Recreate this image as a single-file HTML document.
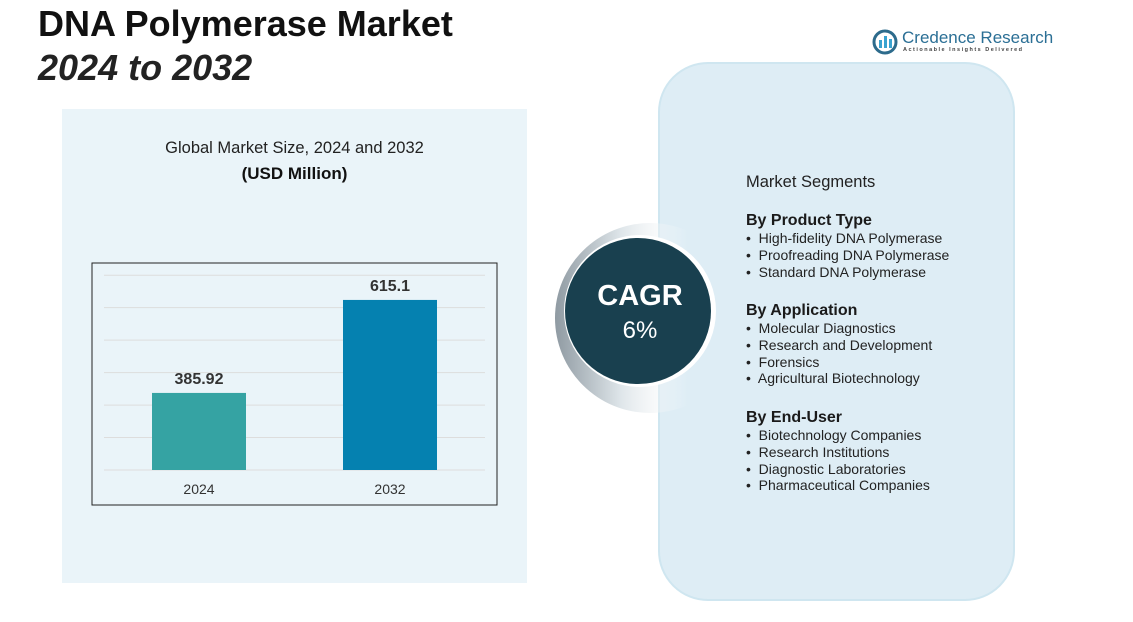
<!DOCTYPE html>
<html><head><meta charset="utf-8"><style>
body{margin:0;width:1133px;height:622px;background:#fff;font-family:"Liberation Sans",sans-serif;position:relative;overflow:hidden}
.abs{position:absolute}
.t1{left:38px;top:3px;font-size:36px;font-weight:bold;color:#111}
.t2{left:38px;top:47px;font-size:36px;font-weight:bold;font-style:italic;color:#222}
.left{left:62px;top:109px;width:465px;height:474px;background:#eaf4f9}
.right{left:658px;top:62px;width:353px;height:535px;background:#deedf5;border:2px solid #cfe6f0;border-radius:50px}
.seg{left:746px;color:#222;font-size:14px}
.h{font-weight:bold;font-size:16px;color:#1a1a1a}
.li{line-height:16.8px}
</style></head><body>
<div class="abs t1">DNA Polymerase Market</div>
<div class="abs t2">2024 to 2032</div>
<div class="abs" style="left:872px;top:28px;">
<svg width="28" height="28" style="position:absolute;left:0;top:0"><circle cx="13" cy="14" r="11" fill="none" stroke="#2d6b8c" stroke-width="3"/><rect x="7" y="12" width="3" height="8" fill="#3aa3d0"/><rect x="12" y="8" width="3" height="12" fill="#3aa3d0"/><rect x="17" y="11" width="3" height="9" fill="#3aa3d0"/></svg>
<div style="position:absolute;left:30px;top:0px;font-size:17px;color:#2b6f95;white-space:nowrap">Credence Research</div>
<div style="position:absolute;left:31px;top:19px;font-size:5.5px;letter-spacing:1.5px;color:#444;white-space:nowrap;font-weight:bold">Actionable Insights Delivered</div>
</div>
<div class="abs left"></div>
<div class="abs" style="left:62px;top:139px;width:465px;text-align:center;font-size:16.5px;color:#222">Global Market Size, 2024 and 2032</div>
<div class="abs" style="left:62px;top:164px;width:465px;text-align:center;font-size:17px;font-weight:bold;color:#111">(USD Million)</div>
<svg class="abs" id="chart" style="left:0;top:0" width="1133" height="622"></svg>
<div class="abs right"></div>
<svg class="abs" style="left:555px;top:215px" width="170" height="210">
<defs><linearGradient id="g" x1="0" x2="1"><stop offset="0" stop-color="#8f9aa2"/><stop offset="0.35" stop-color="#dfe6ea"/><stop offset="0.7" stop-color="#fff" stop-opacity="0"/></linearGradient></defs>
<circle cx="95" cy="103" r="95" fill="url(#g)"/>
<circle cx="85" cy="96" r="76" fill="#fff"/>
<circle cx="83" cy="96" r="73" fill="#19404f"/>
<text x="85" y="90" text-anchor="middle" font-size="29" font-weight="bold" fill="#fff" font-family="Liberation Sans">CAGR</text>
<text x="85" y="123" text-anchor="middle" font-size="24" fill="#fff" font-family="Liberation Sans">6%</text>
</svg>
<div class="abs seg" style="top:173px;font-size:16.5px">Market Segments</div>
<div class="abs seg" style="top:212px"><div class="h">By Product Type</div>
<div class="li">•&nbsp; High-fidelity DNA Polymerase</div><div class="li">•&nbsp; Proofreading DNA Polymerase</div><div class="li">•&nbsp; Standard DNA Polymerase</div></div>
<div class="abs seg" style="top:302px"><div class="h">By Application</div>
<div class="li">•&nbsp; Molecular Diagnostics</div><div class="li">•&nbsp; Research and Development</div><div class="li">•&nbsp; Forensics</div><div class="li">•&nbsp; Agricultural Biotechnology</div></div>
<div class="abs seg" style="top:409px"><div class="h">By End-User</div>
<div class="li">•&nbsp; Biotechnology Companies</div><div class="li">•&nbsp; Research Institutions</div><div class="li">•&nbsp; Diagnostic Laboratories</div><div class="li">•&nbsp; Pharmaceutical Companies</div></div>
<script>
const categories=["2024","2032"];
const values=[385.92,615.1];
const labels=["385.92","615.1"];
const colors=["#35a3a3","#0581b0"];
const yMin=196, yMax=680, step=80;
const svg=document.getElementById('chart');
const NS="http://www.w3.org/2000/svg";
const baseY=470, ppu=0.4058;
const y=v=>baseY-(v-yMin)*ppu;
const xc=i=>199+i*191;
function mk(t,a){const e=document.createElementNS(NS,t);for(const k in a)e.setAttribute(k,a[k]);svg.appendChild(e);return e;}
const box=mk('rect',{x:92,y:263,width:405,height:242,fill:'none',stroke:'#222','stroke-width':1});


for(let v=yMin;v<=yMax;v+=step){const g=mk('line',{x1:104,x2:485,y1:y(v),y2:y(v),stroke:'#ddd','stroke-width':1});

}
categories.forEach((c,i)=>{
const r=mk('rect',{x:xc(i)-47,y:y(values[i]),width:94,height:baseY-y(values[i]),fill:colors[i]});


const t=mk('text',{x:xc(i),y:y(values[i])-9,'text-anchor':'middle','font-size':16,'font-weight':'bold',fill:'#333','font-family':'Liberation Sans'});t.textContent=labels[i];


const l=mk('text',{x:xc(i),y:494,'text-anchor':'middle','font-size':14,fill:'#333','font-family':'Liberation Sans'});l.textContent=c;


});
</script>
</body></html>
